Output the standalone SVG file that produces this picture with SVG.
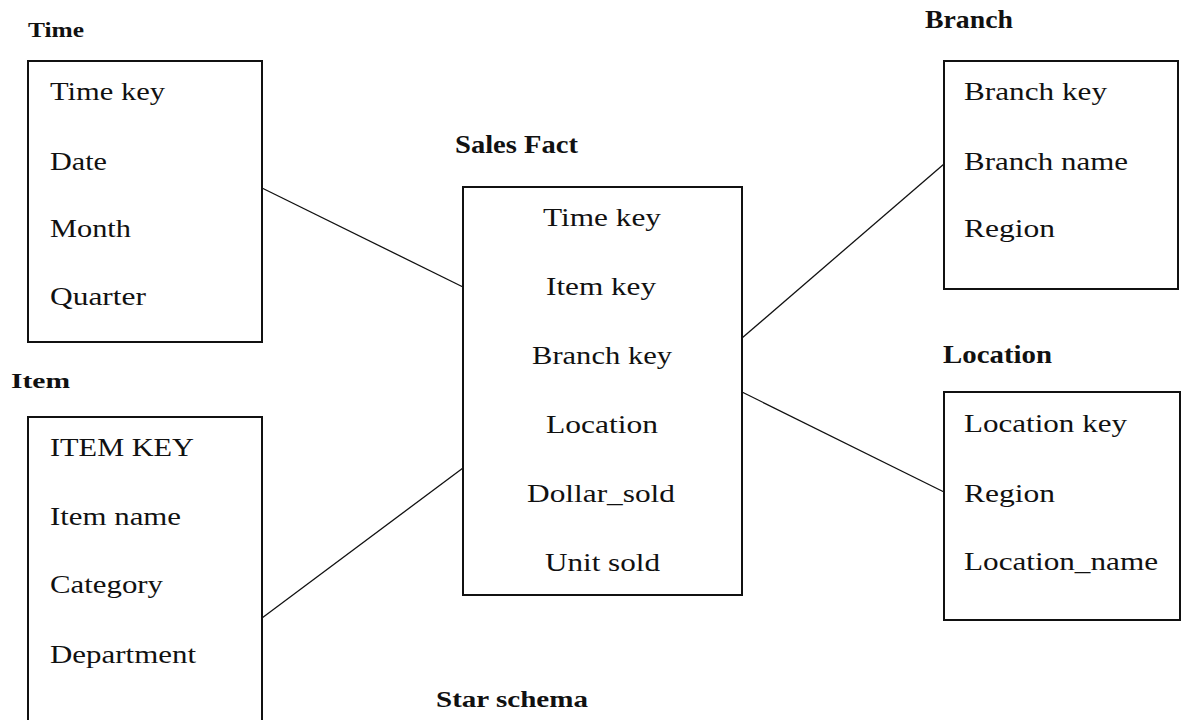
<svg xmlns="http://www.w3.org/2000/svg" width="1182" height="720" viewBox="0 0 1182 720">
  <style>
    .box { fill: none; stroke: #111; stroke-width: 2; }
    .link { stroke: #111; stroke-width: 1.3; fill: none; }
    .title { font-family: "Liberation Serif", "Times New Roman", serif; font-weight: bold; fill: #111; }
    .field { font-family: "Liberation Serif", "Times New Roman", serif; font-size: 26px; fill: #111; }
  </style>
  <rect width="1182" height="720" fill="#fff"/>

  <!-- relationships between the fact table and dimensions -->
  <g id="connectors">
    <line class="link" x1="262" y1="188" x2="463" y2="287"/>
    <line class="link" x1="262" y1="618" x2="463" y2="468"/>
    <line class="link" x1="742" y1="338" x2="944" y2="164"/>
    <line class="link" x1="742" y1="392" x2="944" y2="492"/>
  </g>

  <g id="time">
    <text class="title" x="28" y="37" font-size="22" textLength="56" lengthAdjust="spacingAndGlyphs">Time</text>
    <rect class="box" x="28" y="61" width="234" height="281"/>
    <text class="field" x="50" y="100" textLength="115" lengthAdjust="spacingAndGlyphs">Time key</text>
    <text class="field" x="50" y="170" textLength="57" lengthAdjust="spacingAndGlyphs">Date</text>
    <text class="field" x="50" y="237" textLength="81" lengthAdjust="spacingAndGlyphs">Month</text>
    <text class="field" x="50" y="305" textLength="96" lengthAdjust="spacingAndGlyphs">Quarter</text>
  </g>

  <g id="item">
    <text class="title" x="11" y="388" font-size="22" textLength="59" lengthAdjust="spacingAndGlyphs">Item</text>
    <rect class="box" x="28" y="417" width="234" height="320"/>
    <text class="field" x="50" y="456" textLength="144" lengthAdjust="spacingAndGlyphs">ITEM KEY</text>
    <text class="field" x="50" y="525" textLength="131" lengthAdjust="spacingAndGlyphs">Item name</text>
    <text class="field" x="50" y="593" textLength="113" lengthAdjust="spacingAndGlyphs">Category</text>
    <text class="field" x="50" y="663" textLength="146" lengthAdjust="spacingAndGlyphs">Department</text>
  </g>

  <g id="sales-fact">
    <text class="title" x="455" y="153" font-size="25" textLength="123" lengthAdjust="spacingAndGlyphs">Sales Fact</text>
    <rect class="box" x="463" y="187" width="279" height="408"/>
    <text class="field" x="543" y="226" textLength="118" lengthAdjust="spacingAndGlyphs">Time key</text>
    <text class="field" x="546" y="295" textLength="110" lengthAdjust="spacingAndGlyphs">Item key</text>
    <text class="field" x="532" y="364" textLength="140" lengthAdjust="spacingAndGlyphs">Branch key</text>
    <text class="field" x="546" y="433" textLength="112" lengthAdjust="spacingAndGlyphs">Location</text>
    <text class="field" x="527" y="502" textLength="148" lengthAdjust="spacingAndGlyphs">Dollar_sold</text>
    <text class="field" x="545" y="571" textLength="115" lengthAdjust="spacingAndGlyphs">Unit sold</text>
  </g>

  <g id="branch">
    <text class="title" x="925" y="28" font-size="25" textLength="88" lengthAdjust="spacingAndGlyphs">Branch</text>
    <rect class="box" x="944" y="61" width="234" height="228"/>
    <text class="field" x="964" y="100" textLength="143" lengthAdjust="spacingAndGlyphs">Branch key</text>
    <text class="field" x="964" y="170" textLength="164" lengthAdjust="spacingAndGlyphs">Branch name</text>
    <text class="field" x="964" y="237" textLength="91" lengthAdjust="spacingAndGlyphs">Region</text>
  </g>

  <g id="location">
    <text class="title" x="943" y="363" font-size="25" textLength="109" lengthAdjust="spacingAndGlyphs">Location</text>
    <rect class="box" x="944" y="392" width="236" height="228"/>
    <text class="field" x="964" y="432" textLength="163" lengthAdjust="spacingAndGlyphs">Location key</text>
    <text class="field" x="964" y="502" textLength="91" lengthAdjust="spacingAndGlyphs">Region</text>
    <text class="field" x="964" y="570" textLength="194" lengthAdjust="spacingAndGlyphs">Location_name</text>
  </g>

  <text class="title" x="436" y="707" font-size="23" textLength="152" lengthAdjust="spacingAndGlyphs">Star schema</text>
</svg>
